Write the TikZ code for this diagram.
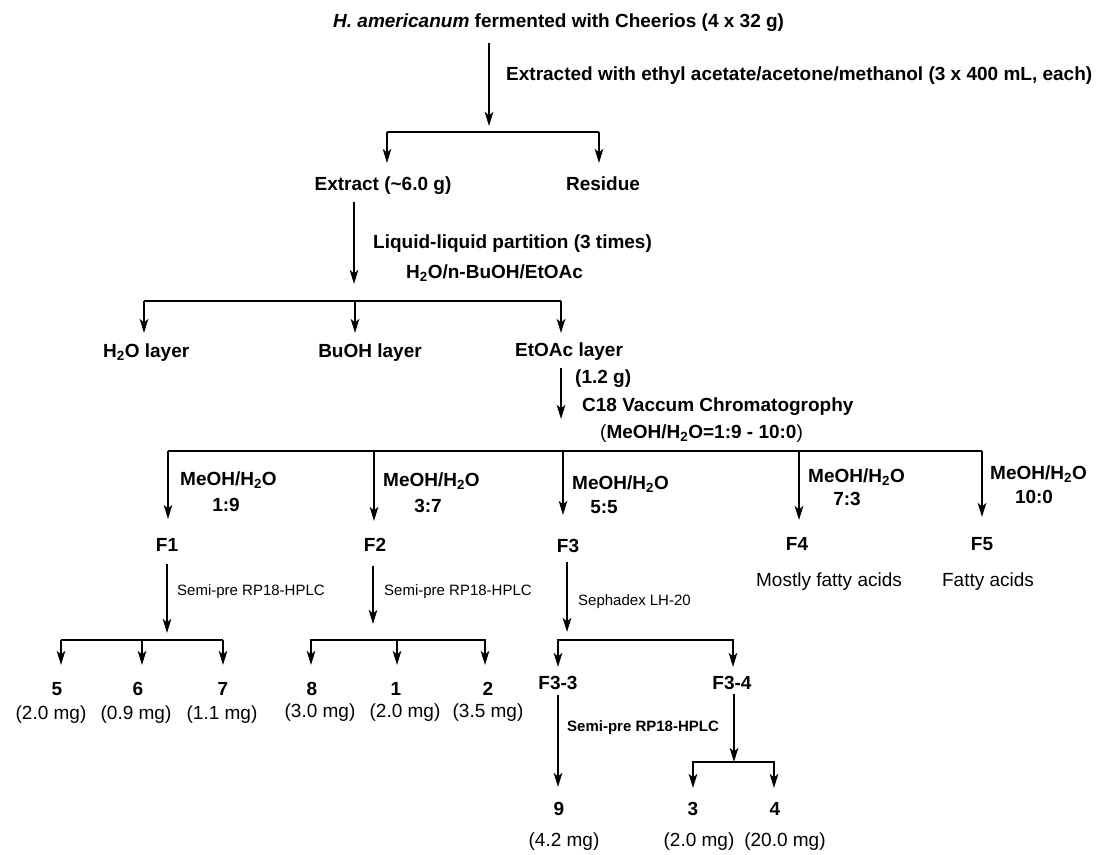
\documentclass[tikz,border=0pt]{standalone}
\usepackage{fontspec}
\setmainfont{Liberation Sans}
\usetikzlibrary{arrows.meta}
\begin{document}
\begin{tikzpicture}[x=1pt,y=-1pt,
  lb/.style={font=\bfseries\fontsize{19}{22}\selectfont, inner sep=0pt},
  rg/.style={font=\fontsize{19}{22}\selectfont, inner sep=0pt},
  sm/.style={font=\fontsize{15}{18}\selectfont, inner sep=0pt},
  smb/.style={font=\bfseries\fontsize{15}{18}\selectfont, inner sep=0pt},
  tip/.tip={Stealth[length=14pt,width=8.5pt,inset=3.5pt]},
  arr/.style={line width=2.2pt, -tip},
  tarr/.style={line width=1.3pt, -tip},
  bar/.style={line width=2.2pt},
  tbar/.style={line width=1.3pt}]
\useasboundingbox (0,0) rectangle (1102,854);

% ---- texts ----
\node[lb, anchor=base west] (title) at (333,27) {\textit{H. americanum} fermented with Cheerios (4 x 32 g)};
\node[lb, anchor=base west] (ext1) at (506,80) {Extracted with ethyl acetate/acetone/methanol (3 x 400 mL, each)};
\node[lb, anchor=base] (extract) at (383,190) {Extract (\textasciitilde 6.0 g)};
\node[lb, anchor=base] (residue) at (603,190) {Residue};
\node[lb, anchor=base west] (llp) at (373,248) {Liquid-liquid partition (3 times)};
\node[lb, anchor=base west] (solv) at (406,278) {H\textsubscript{2}O/n-BuOH/EtOAc};
\node[lb, anchor=base west] (h2o) at (103,357) {H\textsubscript{2}O layer};
\node[lb, anchor=base] (buoh) at (370,357) {BuOH layer};
\node[lb, anchor=base west] (etoac) at (515,356) {EtOAc layer};
\node[lb, anchor=base west] (mass) at (575,383) {(1.2 g)};
\node[lb, anchor=base west] (c18) at (582,411) {C18 Vaccum Chromatogrophy};
\node[lb, anchor=base west] (grad) at (600,438) {{\mdseries(}MeOH/H\textsubscript{2}O=1:9 - 10:0{\mdseries)}};

\node[lb, anchor=base west] (m1) at (180,485) {MeOH/H\textsubscript{2}O};
\node[lb, anchor=base] (r1) at (226,511) {1:9};
\node[lb, anchor=base west] (m2) at (383,486) {MeOH/H\textsubscript{2}O};
\node[lb, anchor=base] (r2) at (428,512) {3:7};
\node[lb, anchor=base west] (m3) at (572,489) {MeOH/H\textsubscript{2}O};
\node[lb, anchor=base] (r3) at (604,513) {5:5};
\node[lb, anchor=base west] (m4) at (808,482) {MeOH/H\textsubscript{2}O};
\node[lb, anchor=base] (r4) at (847,505) {7:3};
\node[lb, anchor=base west] (m5) at (990,479) {MeOH/H\textsubscript{2}O};
\node[lb, anchor=base] (r5) at (1034,503) {10:0};

\node[lb, anchor=base] (F1) at (167,551) {F1};
\node[lb, anchor=base] (F2) at (375,551) {F2};
\node[lb, anchor=base] (F3) at (568,552) {F3};
\node[lb, anchor=base] (F4) at (797,550) {F4};
\node[lb, anchor=base] (F5) at (982,550) {F5};
\node[rg, anchor=base] (fa4) at (829,586) {Mostly fatty acids};
\node[rg, anchor=base] (fa5) at (988,586) {Fatty acids};

\node[sm, anchor=base west] (hp1) at (177,595) {Semi-pre RP18-HPLC};
\node[sm, anchor=base west] (hp2) at (384,595) {Semi-pre RP18-HPLC};
\node[sm, anchor=base west] (seph) at (578,605) {Sephadex LH-20};

\node[lb, anchor=base] (c5) at (57,695) {5};
\node[lb, anchor=base] (c6) at (138,695) {6};
\node[lb, anchor=base] (c7) at (223,695) {7};
\node[rg, anchor=base] (w5) at (51,719) {(2.0 mg)};
\node[rg, anchor=base] (w6) at (136,719) {(0.9 mg)};
\node[rg, anchor=base] (w7) at (222,719) {(1.1 mg)};
\node[lb, anchor=base] (c8) at (312,695) {8};
\node[lb, anchor=base] (c1) at (396,695) {1};
\node[lb, anchor=base] (c2) at (488,695) {2};
\node[rg, anchor=base] (w8) at (320,717) {(3.0 mg)};
\node[rg, anchor=base] (w1) at (405,717) {(2.0 mg)};
\node[rg, anchor=base] (w2) at (488,717) {(3.5 mg)};

\node[lb, anchor=base] (F33) at (558,689) {F3-3};
\node[lb, anchor=base] (F34) at (732,689) {F3-4};
\node[smb, anchor=base west] (hp3) at (567,731) {Semi-pre RP18-HPLC};
\node[lb, anchor=base] (c9) at (559,815) {9};
\node[lb, anchor=base] (c3) at (693,815) {3};
\node[lb, anchor=base] (c4) at (775,815) {4};
\node[rg, anchor=base] (w9) at (564,846) {(4.2 mg)};
\node[rg, anchor=base] (w3) at (699,846) {(2.0 mg)};
\node[rg, anchor=base] (w4) at (785,846) {(20.0 mg)};

% ---- coordinates ----
\coordinate (t0) at (489,43);  \coordinate (t1) at (489,126);
\coordinate (b1l) at (387,132); \coordinate (b1r) at (599,132);
\coordinate (b1le) at (387,163); \coordinate (b1re) at (599,163);
\coordinate (e0) at (354,202); \coordinate (e1) at (354,284);
\coordinate (b2l) at (144,301); \coordinate (b2m) at (355,301); \coordinate (b2r) at (561,301);
\coordinate (b2le) at (144,333); \coordinate (b2me) at (355,333); \coordinate (b2re) at (561,333);
\coordinate (k0) at (561,368); \coordinate (k1) at (561,419);
\coordinate (b3a) at (168,451); \coordinate (b3b) at (374,451); \coordinate (b3c) at (563,451);
\coordinate (b3d) at (799,451); \coordinate (b3e) at (982,451);
\coordinate (b3ae) at (168,519); \coordinate (b3be) at (374,521); \coordinate (b3ce) at (563,515);
\coordinate (b3de) at (799,520); \coordinate (b3ee) at (982,517);
\coordinate (f1s) at (167,564); \coordinate (f1e) at (167,633);
\coordinate (f2s) at (373,566); \coordinate (f2e) at (373,624);
\coordinate (f3s) at (567,562); \coordinate (f3e) at (567,632);
\coordinate (g1l) at (61,640); \coordinate (g1m) at (142,640); \coordinate (g1r) at (223,640);
\coordinate (g1le) at (61,665); \coordinate (g1me) at (142,665); \coordinate (g1re) at (223,665);
\coordinate (g2l) at (311,640); \coordinate (g2m) at (397,640); \coordinate (g2r) at (485,640);
\coordinate (g2le) at (311,665); \coordinate (g2me) at (397,665); \coordinate (g2re) at (485,665);
\coordinate (g3l) at (558,640); \coordinate (g3r) at (733,640);
\coordinate (g3le) at (558,667); \coordinate (g3re) at (733,667);
\coordinate (h3s) at (558,695); \coordinate (h3e) at (558,787);
\coordinate (h4s) at (734,694); \coordinate (h4e) at (734,762);
\coordinate (g4l) at (693,762); \coordinate (g4r) at (774,762);
\coordinate (g4le) at (693,788); \coordinate (g4re) at (774,788);

% ---- connectors ----
\draw[arr] (t0) -- (t1);
\draw[tbar] (b1l) -- (b1r);
\draw[tarr] (b1l) -- (b1le);
\draw[arr] (b1r) -- (b1re);

\draw[arr] (e0) -- (e1);
\draw[tbar] (b2l) -- (b2r);
\draw[arr] (b2l) -- (b2le);
\draw[arr] (b2m) -- (b2me);
\draw[arr] (b2r) -- (b2re);

\draw[arr] (k0) -- (k1);
\draw[tbar] (b3a) -- (b3e);
\draw[tarr] (b3a) -- (b3ae);
\draw[arr] (b3b) -- (b3be);
\draw[arr] (b3c) -- (b3ce);
\draw[arr] (b3d) -- (b3de);
\draw[arr] (b3e) -- (b3ee);

\draw[arr] (f1s) -- (f1e);
\draw[arr] (f2s) -- (f2e);
\draw[arr] (f3s) -- (f3e);

\draw[tbar] (g1l) -- (g1r);
\draw[arr] (g1l) -- (g1le);
\draw[arr] (g1m) -- (g1me);
\draw[arr] (g1r) -- (g1re);

\draw[bar] ([xshift=-1.1pt]g2l) -- ([xshift=1.1pt]g2r);
\draw[arr] (g2l) -- (g2le);
\draw[arr] (g2m) -- (g2me);
\draw[arr] (g2r) -- (g2re);

\draw[bar] ([xshift=-1.1pt]g3l) -- ([xshift=1.1pt]g3r);
\draw[arr] (g3l) -- (g3le);
\draw[arr] (g3r) -- (g3re);

\draw[arr] (h3s) -- (h3e);
\draw[arr] (h4s) -- (h4e);
\draw[bar] ([xshift=-1.1pt]g4l) -- ([xshift=1.1pt]g4r);
\draw[arr] (g4l) -- (g4le);
\draw[arr] (g4r) -- (g4re);
\end{tikzpicture}
\end{document}
